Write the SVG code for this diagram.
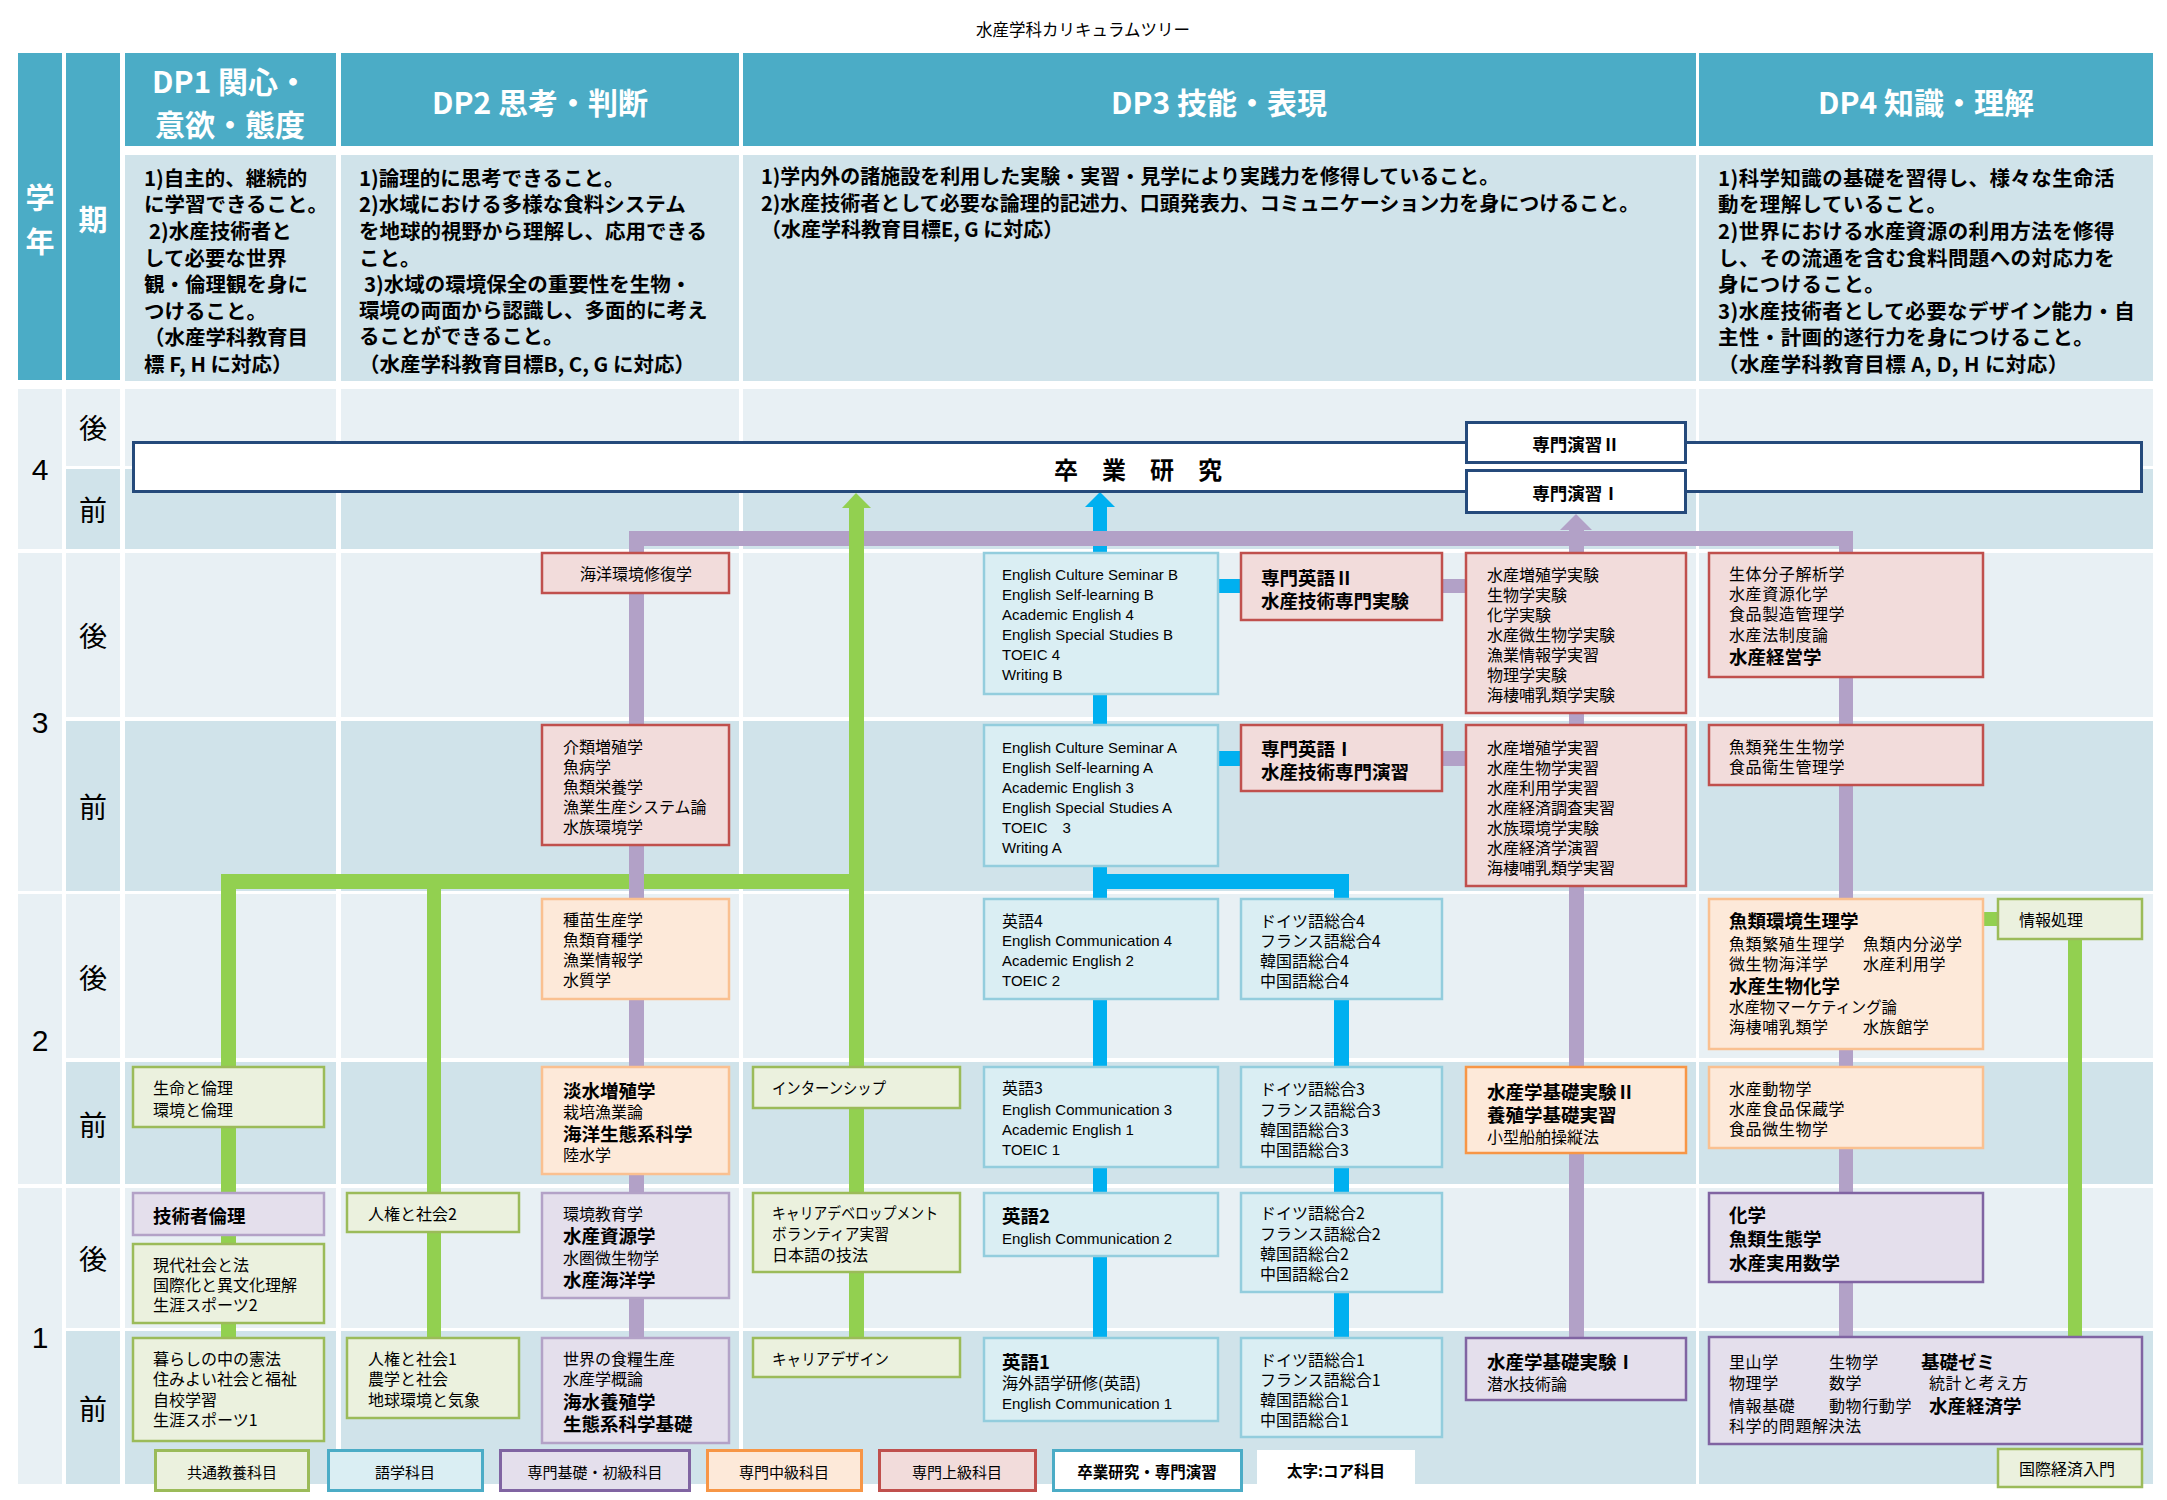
<svg xmlns="http://www.w3.org/2000/svg" width="2167" height="1500" viewBox="0 0 2167 1500">
<defs>
<style>
text{font-family:"Noto Sans CJK JP","Noto Sans CJK SC",sans-serif;dominant-baseline:central;fill:#000;}
.s{font-size:16px;}
.b{font-size:18.5px;font-weight:700;}
.en{font-family:"Liberation Sans","Noto Sans CJK JP",sans-serif;font-size:15px;}
.w4{letter-spacing:0.6px;}
.hd{fill:#fff;font-weight:700;font-size:30px;text-anchor:middle;}
.ds{font-weight:700;font-size:20.5px;}
.ds4{font-weight:700;font-size:20.5px;letter-spacing:0.4px;}
.ds3{font-weight:700;font-size:20px;}
.per{font-size:28px;text-anchor:middle;}
.yr{font-family:"Liberation Sans",sans-serif;font-size:30px;text-anchor:middle;}
.lg{font-size:15px;text-anchor:middle;}
.lgb{font-size:15.5px;font-weight:700;text-anchor:middle;}
.c{text-anchor:middle;}
.g{fill:#EBF1DE;stroke:#9BBB59;stroke-width:2.5;}
.bl{fill:#DAEEF3;stroke:#93CDDD;stroke-width:2.5;}
.pl{fill:#E4DFEC;stroke:#B3A2C7;stroke-width:2.5;}
.pd{fill:#E4DFEC;stroke:#8064A2;stroke-width:2.5;}
.ol{fill:#FDE9D9;stroke:#FAC090;stroke-width:2.5;}
.od{fill:#FDE9D9;stroke:#F79646;stroke-width:2.5;}
.r{fill:#F2DCDB;stroke:#C0504D;stroke-width:2.5;}
.nv{fill:#fff;stroke:#254A7B;stroke-width:3;}
.lt{fill:#E8F0F4;}
.dk{fill:#D0E3EA;}
.tl{fill:#4BACC6;}
.cb{fill:#00B0F0;}
.cp{fill:#B2A1C7;}
.cg{fill:#92D050;}
.hw{fill:#fff;font-size:29px;font-weight:700;text-anchor:middle;}
</style>
</defs>
<rect x="0" y="0" width="2167" height="1500" fill="#fff"/>
<text x="1083" y="29" style="font-size:16.5px" text-anchor="middle">水産学科カリキュラムツリー</text>

<g id="grid">
  <rect class="tl" x="18" y="53" width="44" height="327"/>
  <rect class="tl" x="66" y="53" width="54" height="327"/>
  <rect class="tl" x="125" y="53" width="211" height="93"/>
  <rect class="tl" x="341" y="53" width="398" height="93"/>
  <rect class="tl" x="743" y="53" width="953" height="93"/>
  <rect class="tl" x="1699" y="53" width="454" height="93"/>
  <rect class="dk" x="125" y="155" width="211" height="226"/>
  <rect class="dk" x="341" y="155" width="398" height="226"/>
  <rect class="dk" x="743" y="155" width="953" height="226"/>
  <rect class="dk" x="1699" y="155" width="454" height="226"/>
  <rect class="lt" x="18" y="389" width="44" height="160"/>
  <rect class="lt" x="18" y="553" width="44" height="338"/>
  <rect class="lt" x="18" y="894" width="44" height="290"/>
  <rect class="lt" x="18" y="1188" width="44" height="296"/>
  <rect class="lt" x="66" y="389" width="2087" height="77"/>
  <rect class="dk" x="66" y="469" width="2087" height="80"/>
  <rect class="lt" x="66" y="553" width="2087" height="164"/>
  <rect class="dk" x="66" y="721" width="2087" height="170"/>
  <rect class="lt" x="66" y="894" width="2087" height="164"/>
  <rect class="dk" x="66" y="1062" width="2087" height="122"/>
  <rect class="lt" x="66" y="1188" width="2087" height="140"/>
  <rect class="dk" x="66" y="1331" width="2087" height="153"/>
  <rect fill="#fff" x="120" y="385" width="5" height="1105"/>
  <rect fill="#fff" x="336" y="385" width="5" height="1105"/>
  <rect fill="#fff" x="739" y="385" width="4" height="1105"/>
  <rect fill="#fff" x="1696" y="385" width="3" height="1105"/>
  <text class="hw" x="40" y="196">学</text>
  <text class="hw" x="40" y="240">年</text>
  <text class="hw" x="93" y="218">期</text>
  <text class="hd" x="230" y="80">DP1 関心・</text>
  <text class="hd" x="230" y="123">意欲・態度</text>
  <text class="hd" x="540" y="101">DP2 思考・判断</text>
  <text class="hd" x="1219" y="101">DP3 技能・表現</text>
  <text class="hd" x="1926" y="101">DP4 知識・理解</text>
  <text class="ds" x="144" y="177">1)自主的、継続的</text>
  <text class="ds" x="144" y="203">に学習できること。</text>
  <text class="ds" x="149" y="230">2)水産技術者と</text>
  <text class="ds" x="144" y="257">して必要な世界</text>
  <text class="ds" x="144" y="283">観・倫理観を身に</text>
  <text class="ds" x="144" y="310">つけること。</text>
  <text class="ds" x="144" y="336">（水産学科教育目</text>
  <text class="ds" x="144" y="363">標 F, H に対応）</text>
  <text class="ds" x="359" y="177">1)論理的に思考できること。</text>
  <text class="ds" x="359" y="203">2)水域における多様な食料システム</text>
  <text class="ds" x="359" y="230">を地球的視野から理解し、応用できる</text>
  <text class="ds" x="359" y="257">こと。</text>
  <text class="ds" x="364" y="283">3)水域の環境保全の重要性を生物・</text>
  <text class="ds" x="359" y="309">環境の両面から認識し、多面的に考え</text>
  <text class="ds" x="359" y="335">ることができること。</text>
  <text class="ds" x="359" y="363">（水産学科教育目標B, C, G に対応）</text>
  <text class="ds3" x="761" y="175">1)学内外の諸施設を利用した実験・実習・見学により実践力を修得していること。</text>
  <text class="ds3" x="761" y="202">2)水産技術者として必要な論理的記述力、口頭発表力、コミュニケーション力を身につけること。</text>
  <text class="ds3" x="761" y="228">（水産学科教育目標E, G に対応）</text>
  <text class="ds4" x="1718" y="177">1)科学知識の基礎を習得し、様々な生命活</text>
  <text class="ds4" x="1718" y="203">動を理解していること。</text>
  <text class="ds4" x="1718" y="230">2)世界における水産資源の利用方法を修得</text>
  <text class="ds4" x="1718" y="257">し、その流通を含む食料問題への対応力を</text>
  <text class="ds4" x="1718" y="283">身につけること。</text>
  <text class="ds4" x="1718" y="310">3)水産技術者として必要なデザイン能力・自</text>
  <text class="ds4" x="1718" y="336">主性・計画的遂行力を身につけること。</text>
  <text class="ds4" x="1718" y="363">（水産学科教育目標 A, D, H に対応）</text>
  <text class="yr" x="40" y="469">4</text>
  <text class="yr" x="40" y="722">3</text>
  <text class="yr" x="40" y="1040">2</text>
  <text class="yr" x="40" y="1337">1</text>
  <text class="per" x="93" y="427">後</text>
  <text class="per" x="93" y="509">前</text>
  <text class="per" x="93" y="635">後</text>
  <text class="per" x="93" y="806">前</text>
  <text class="per" x="93" y="977">後</text>
  <text class="per" x="93" y="1124">前</text>
  <text class="per" x="93" y="1258">後</text>
  <text class="per" x="93" y="1408">前</text>
</g>

<g id="connectors">
  <rect class="cb" x="1093" y="505" width="14" height="832"/>
  <polygon class="cb" points="1085,507 1100,492 1115,507"/>
  <rect class="cb" x="1093" y="874" width="256" height="15"/>
  <rect class="cb" x="1334" y="874" width="15" height="463"/>
  <rect class="cb" x="1218" y="579" width="23" height="14"/>
  <rect class="cb" x="1218" y="751" width="23" height="15"/>
  <rect class="cg" x="221" y="874" width="643" height="15"/>
  <rect class="cg" x="221" y="874" width="15" height="463"/>
  <rect class="cg" x="427" y="874" width="14" height="463"/>
  <rect class="cg" x="1983" y="912" width="15" height="14"/>
  <rect class="cg" x="2068" y="939" width="14" height="398"/>
  <rect class="cp" x="629" y="531" width="1224" height="15"/>
  <rect class="cp" x="629" y="531" width="15" height="806"/>
  <rect class="cp" x="1569" y="528" width="15" height="809"/>
  <polygon class="cp" points="1560,530 1576,514 1592,530"/>
  <rect class="cp" x="1839" y="531" width="14" height="805"/>
  <rect class="cp" x="1442" y="579" width="24" height="14"/>
  <rect class="cp" x="1442" y="751" width="24" height="15"/>
  <rect class="cg" x="849" y="506" width="15" height="831"/>
  <polygon class="cg" points="842,508 856,493 871,508"/>
</g>

<g id="n_sotsuken"><rect class="nv" x="133.5" y="442.5" width="2008" height="49"/><text x="1138" y="468" style="font-size:24px;font-weight:700" text-anchor="middle">卒　業　研　究</text></g>
<g id="n_ensyu2"><rect class="nv" x="1466.5" y="422.5" width="219" height="40"/><text x="1576" y="443" style="font-size:17.5px;font-weight:700" text-anchor="middle">専門演習Ⅱ</text></g>
<g id="n_ensyu1"><rect class="nv" x="1466.5" y="470.5" width="219" height="42"/><text x="1576" y="492" style="font-size:17.5px;font-weight:700" text-anchor="middle">専門演習Ⅰ</text></g>

<g id="n_seimei"><rect class="g" x="133" y="1067" width="191" height="60"/><text class="s" x="153" y="1087">生命と倫理</text><text class="s" x="153" y="1109">環境と倫理</text></g>
<g id="n_gijutsusha"><rect class="pl" x="133" y="1193" width="191" height="42"/><text class="b" x="153" y="1215">技術者倫理</text></g>
<g id="n_gendai"><rect class="g" x="133" y="1244" width="191" height="79"/><text class="s" x="153" y="1264">現代社会と法</text><text class="s" x="153" y="1284">国際化と異文化理解</text><text class="s" x="153" y="1304">生涯スポーツ2</text></g>
<g id="n_kurashi"><rect class="g" x="133" y="1338" width="191" height="103"/><text class="s" x="153" y="1358">暮らしの中の憲法</text><text class="s" x="153" y="1378">住みよい社会と福祉</text><text class="s" x="153" y="1399">自校学習</text><text class="s" x="153" y="1419">生涯スポーツ1</text></g>
<g id="n_jinken2"><rect class="g" x="347" y="1193" width="172" height="39"/><text class="s" x="368" y="1213">人権と社会2</text></g>
<g id="n_jinken1"><rect class="g" x="347" y="1338" width="172" height="80"/><text class="s" x="368" y="1358">人権と社会1</text><text class="s" x="368" y="1378">農学と社会</text><text class="s" x="368" y="1399">地球環境と気象</text></g>

<g id="n_kaiyo"><rect class="r" x="542" y="553" width="187" height="40"/><text class="s c" x="636" y="573">海洋環境修復学</text></g>
<g id="n_kairui"><rect class="r" x="542" y="725" width="187" height="120"/><text class="s" x="563" y="746">介類増殖学</text><text class="s" x="563" y="766">魚病学</text><text class="s" x="563" y="786">魚類栄養学</text><text class="s" x="563" y="806">漁業生産システム論</text><text class="s" x="563" y="826">水族環境学</text></g>
<g id="n_shubyo"><rect class="ol" x="542" y="899" width="187" height="100"/><text class="s" x="563" y="919">種苗生産学</text><text class="s" x="563" y="939">魚類育種学</text><text class="s" x="563" y="959">漁業情報学</text><text class="s" x="563" y="979">水質学</text></g>
<g id="n_tansui"><rect class="ol" x="542" y="1067" width="187" height="107"/><text class="b" x="563" y="1090">淡水増殖学</text><text class="s" x="563" y="1111">栽培漁業論</text><text class="b" x="563" y="1133">海洋生態系科学</text><text class="s" x="563" y="1154">陸水学</text></g>
<g id="n_kankyo"><rect class="pl" x="542" y="1193" width="187" height="105"/><text class="s" x="563" y="1213">環境教育学</text><text class="b" x="563" y="1235">水産資源学</text><text class="s" x="563" y="1257">水圏微生物学</text><text class="b" x="563" y="1279">水産海洋学</text></g>
<g id="n_sekai"><rect class="pl" x="542" y="1338" width="187" height="105"/><text class="s" x="563" y="1358">世界の食糧生産</text><text class="s" x="563" y="1378">水産学概論</text><text class="b" x="563" y="1401">海水養殖学</text><text class="b" x="563" y="1423">生態系科学基礎</text></g>

<g id="n_intern"><rect class="g" x="753" y="1067" width="207" height="41"/><text class="s" x="772" y="1087" textLength="114" lengthAdjust="spacingAndGlyphs">インターンシップ</text></g>
<g id="n_careerdev"><rect class="g" x="753" y="1193" width="207" height="79"/><text class="s" x="772" y="1212" textLength="166" lengthAdjust="spacingAndGlyphs">キャリアデベロップメント</text><text class="s" x="772" y="1233" textLength="117" lengthAdjust="spacingAndGlyphs">ボランティア実習</text><text class="s" x="772" y="1254">日本語の技法</text></g>
<g id="n_careerdesign"><rect class="g" x="753" y="1338" width="207" height="39"/><text class="s" x="772" y="1358" textLength="117" lengthAdjust="spacingAndGlyphs">キャリアデザイン</text></g>

<g id="n_ecs_b"><rect class="bl" x="984" y="553" width="234" height="141"/><text class="en" x="1002" y="574">English Culture Seminar B</text><text class="en" x="1002" y="594">English Self-learning B</text><text class="en" x="1002" y="614">Academic English 4</text><text class="en" x="1002" y="634">English Special Studies B</text><text class="en" x="1002" y="654">TOEIC 4</text><text class="en" x="1002" y="674">Writing B</text></g>
<g id="n_ecs_a"><rect class="bl" x="984" y="725" width="234" height="141"/><text class="en" x="1002" y="747">English Culture Seminar A</text><text class="en" x="1002" y="767">English Self-learning A</text><text class="en" x="1002" y="787">Academic English 3</text><text class="en" x="1002" y="807">English Special Studies A</text><text class="en" x="1002" y="827">TOEIC　3</text><text class="en" x="1002" y="847">Writing A</text></g>
<g id="n_eigo4"><rect class="bl" x="984" y="899" width="234" height="100"/><text class="s" x="1002" y="920">英語4</text><text class="en" x="1002" y="940">English Communication 4</text><text class="en" x="1002" y="960">Academic English 2</text><text class="en" x="1002" y="980">TOEIC 2</text></g>
<g id="n_eigo3"><rect class="bl" x="984" y="1067" width="234" height="100"/><text class="s" x="1002" y="1087">英語3</text><text class="en" x="1002" y="1109">English Communication 3</text><text class="en" x="1002" y="1129">Academic English 1</text><text class="en" x="1002" y="1149">TOEIC 1</text></g>
<g id="n_eigo2"><rect class="bl" x="984" y="1193" width="234" height="63"/><text class="b" x="1002" y="1215">英語2</text><text class="en" x="1002" y="1238">English Communication 2</text></g>
<g id="n_eigo1"><rect class="bl" x="984" y="1338" width="234" height="83"/><text class="b" x="1002" y="1361">英語1</text><text class="s" x="1002" y="1382">海外語学研修(英語)</text><text class="en" x="1002" y="1403">English Communication 1</text></g>

<g id="n_senmoneigo2"><rect class="r" x="1241" y="553" width="201" height="67"/><text class="b" x="1261" y="577">専門英語Ⅱ</text><text class="b" x="1261" y="600">水産技術専門実験</text></g>
<g id="n_senmoneigo1"><rect class="r" x="1241" y="725" width="201" height="66"/><text class="b" x="1261" y="748">専門英語Ⅰ</text><text class="b" x="1261" y="771">水産技術専門演習</text></g>
<g id="n_doitsu4"><rect class="bl" x="1241" y="899" width="201" height="100"/><text class="s" x="1260" y="920">ドイツ語総合4</text><text class="s" x="1260" y="940">フランス語総合4</text><text class="s" x="1260" y="960">韓国語総合4</text><text class="s" x="1260" y="980">中国語総合4</text></g>
<g id="n_doitsu3"><rect class="bl" x="1241" y="1067" width="201" height="100"/><text class="s" x="1260" y="1088">ドイツ語総合3</text><text class="s" x="1260" y="1109">フランス語総合3</text><text class="s" x="1260" y="1129">韓国語総合3</text><text class="s" x="1260" y="1149">中国語総合3</text></g>
<g id="n_doitsu2"><rect class="bl" x="1241" y="1193" width="201" height="99"/><text class="s" x="1260" y="1212">ドイツ語総合2</text><text class="s" x="1260" y="1233">フランス語総合2</text><text class="s" x="1260" y="1253">韓国語総合2</text><text class="s" x="1260" y="1273">中国語総合2</text></g>
<g id="n_doitsu1"><rect class="bl" x="1241" y="1338" width="201" height="99"/><text class="s" x="1260" y="1359">ドイツ語総合1</text><text class="s" x="1260" y="1379">フランス語総合1</text><text class="s" x="1260" y="1399">韓国語総合1</text><text class="s" x="1260" y="1419">中国語総合1</text></g>

<g id="n_jikken"><rect class="r" x="1466" y="553" width="220" height="160"/><text class="s" x="1487" y="574">水産増殖学実験</text><text class="s" x="1487" y="594">生物学実験</text><text class="s" x="1487" y="614">化学実験</text><text class="s" x="1487" y="634">水産微生物学実験</text><text class="s" x="1487" y="654">漁業情報学実習</text><text class="s" x="1487" y="674">物理学実験</text><text class="s" x="1487" y="694">海棲哺乳類学実験</text></g>
<g id="n_jisshu"><rect class="r" x="1466" y="725" width="220" height="161"/><text class="s" x="1487" y="747">水産増殖学実習</text><text class="s" x="1487" y="767">水産生物学実習</text><text class="s" x="1487" y="787">水産利用学実習</text><text class="s" x="1487" y="807">水産経済調査実習</text><text class="s" x="1487" y="827">水族環境学実験</text><text class="s" x="1487" y="847">水産経済学演習</text><text class="s" x="1487" y="867">海棲哺乳類学実習</text></g>
<g id="n_kiso2"><rect class="od" x="1466" y="1067" width="220" height="86"/><text class="b" x="1487" y="1091">水産学基礎実験Ⅱ</text><text class="b" x="1487" y="1114">養殖学基礎実習</text><text class="s" x="1487" y="1136">小型船舶操縦法</text></g>
<g id="n_kiso1"><rect class="pd" x="1466" y="1338" width="220" height="62"/><text class="b" x="1487" y="1361">水産学基礎実験Ⅰ</text><text class="s" x="1487" y="1383">潜水技術論</text></g>

<g id="n_seitai"><rect class="r" x="1709" y="553" width="274" height="124"/><text class="s w4" x="1729" y="573">生体分子解析学</text><text class="s w4" x="1729" y="593">水産資源化学</text><text class="s w4" x="1729" y="613">食品製造管理学</text><text class="s w4" x="1729" y="634">水産法制度論</text><text class="b" x="1729" y="656">水産経営学</text></g>
<g id="n_hassei"><rect class="r" x="1709" y="725" width="274" height="60"/><text class="s w4" x="1729" y="746">魚類発生生物学</text><text class="s w4" x="1729" y="766">食品衛生管理学</text></g>
<g id="n_kankyoseiri"><rect class="ol" x="1709" y="899" width="274" height="150"/><text class="b" x="1729" y="920">魚類環境生理学</text><text class="s w4" x="1729" y="943">魚類繁殖生理学</text><text class="s w4" x="1863" y="943">魚類内分泌学</text><text class="s w4" x="1729" y="963">微生物海洋学</text><text class="s w4" x="1863" y="963">水産利用学</text><text class="b" x="1729" y="985">水産生物化学</text><text class="s" x="1729" y="1006" textLength="168" lengthAdjust="spacingAndGlyphs">水産物マーケティング論</text><text class="s w4" x="1729" y="1026">海棲哺乳類学</text><text class="s w4" x="1863" y="1026">水族館学</text></g>
<g id="n_dobutsu"><rect class="ol" x="1709" y="1067" width="274" height="81"/><text class="s w4" x="1729" y="1088">水産動物学</text><text class="s w4" x="1729" y="1108">水産食品保蔵学</text><text class="s w4" x="1729" y="1128">食品微生物学</text></g>
<g id="n_kagaku"><rect class="pd" x="1709" y="1193" width="274" height="89"/><text class="b" x="1729" y="1214">化学</text><text class="b" x="1729" y="1238">魚類生態学</text><text class="b" x="1729" y="1262">水産実用数学</text></g>
<g id="n_satoyama"><rect class="pd" x="1709" y="1337" width="433" height="107"/><text class="s w4" x="1729" y="1361">里山学</text><text class="s w4" x="1829" y="1361">生物学</text><text class="b" x="1921" y="1361">基礎ゼミ</text><text class="s w4" x="1729" y="1382">物理学</text><text class="s w4" x="1829" y="1382">数学</text><text class="s w4" x="1929" y="1382">統計と考え方</text><text class="s w4" x="1729" y="1405">情報基礎</text><text class="s w4" x="1829" y="1405">動物行動学</text><text class="b" x="1929" y="1405">水産経済学</text><text class="s w4" x="1729" y="1425">科学的問題解決法</text></g>
<g id="n_joho"><rect class="g" x="1998" y="899" width="144" height="40"/><text class="s" x="2019" y="919">情報処理</text></g>
<g id="n_kokusai"><rect class="g" x="1998" y="1449" width="144" height="38"/><text class="s" x="2019" y="1468">国際経済入門</text></g>

<g id="legend">
  <rect x="155.5" y="1450.5" width="153" height="40" style="fill:#EBF1DE;stroke:#9BBB59;stroke-width:3"/><text class="lg" x="232" y="1471">共通教養科目</text>
  <rect x="328.5" y="1450.5" width="154" height="40" style="fill:#DAEEF3;stroke:#4BACC6;stroke-width:3"/><text class="lg" x="405" y="1471">語学科目</text>
  <rect x="500.5" y="1450.5" width="189" height="40" style="fill:#E4DFEC;stroke:#8064A2;stroke-width:3"/><text class="lg" x="595" y="1471">専門基礎・初級科目</text>
  <rect x="707.5" y="1450.5" width="154" height="40" style="fill:#FDE9D9;stroke:#F79646;stroke-width:3"/><text class="lg" x="784" y="1471">専門中級科目</text>
  <rect x="879.5" y="1450.5" width="156" height="40" style="fill:#F2DCDB;stroke:#C0504D;stroke-width:3"/><text class="lg" x="957" y="1471">専門上級科目</text>
  <rect x="1053.5" y="1450.5" width="188" height="40" style="fill:#fff;stroke:#4BACC6;stroke-width:3"/><text class="lgb" x="1147" y="1471">卒業研究・専門演習</text>
  <rect x="1257" y="1450" width="158" height="36" style="fill:#fff"/><text class="lgb" x="1336" y="1470">太字:コア科目</text>
</g>
</svg>
